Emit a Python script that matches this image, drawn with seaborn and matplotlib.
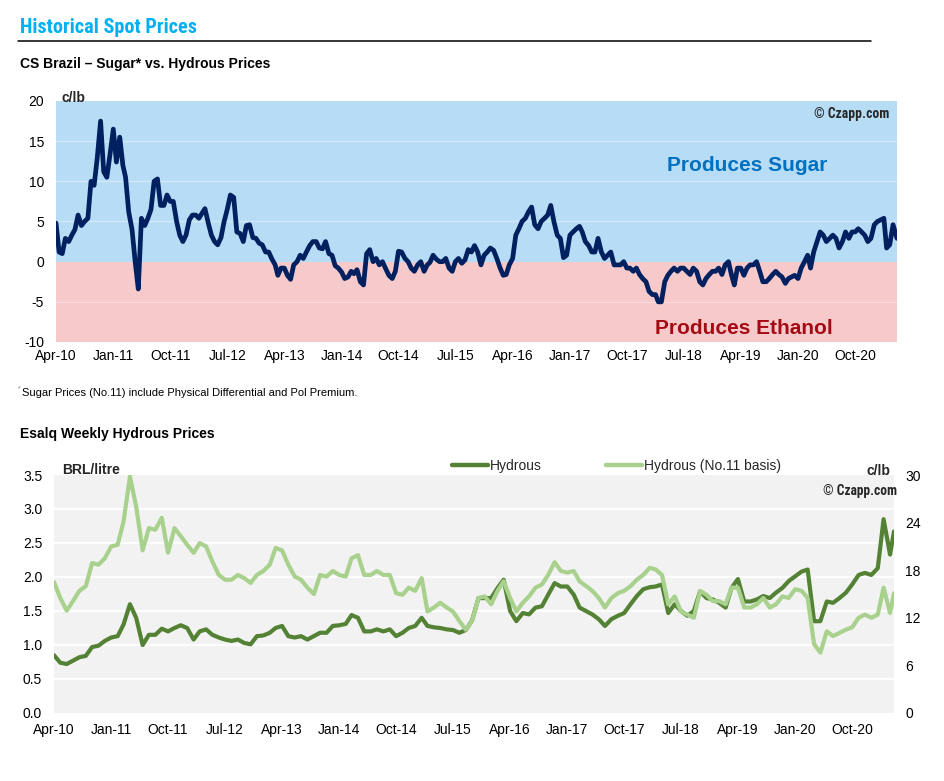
import numpy as np
import pandas as pd
import matplotlib
matplotlib.use('Agg')
import matplotlib.pyplot as plt
from matplotlib.lines import Line2D
from matplotlib import font_manager
from matplotlib.font_manager import FontProperties
import seaborn as sns

# ---------------- data ----------------
# CS Brazil sugar premium over hydrous, c/lb: value at each month start from Apr-10
sugar_premium_start = [
    4.8, 1.0, 2.5, 4.0, 4.5, 5.4, 9.5, 17.5, 10.5, 16.5,
    15.5, 10.5, 4.0, -3.4, 4.5, 6.5, 10.3, 7.0, 7.5, 5.0,
    2.5, 5.2, 5.8, 6.0, 4.8, 2.5, 3.0, 6.5, 8.0, 3.5,
    4.5, 3.0, 2.3, 1.2, 0.3, -1.7, -0.8, -2.2, 0.0, 0.4,
    2.0, 2.5, 1.6, 1.0, -0.5, -1.3, -1.9, -1.5, -2.5, 1.0,
    0.0, -0.4, -0.9, -2.1, 1.3, 0.4, -0.8, -0.4, -1.2, -0.1,
    0.3, 0.0, -0.8, 0.0, -0.2, 1.5, 2.0, -0.4, 1.2, 1.4,
    -0.8, -1.6, 0.4, 4.1, 5.4, 6.8, 4.1, 5.4, 7.0, 3.3,
    0.5, 3.3, 4.1, 3.7, 2.0, 1.2, 1.2, 0.8, -0.4, -0.4,
    -0.8, -1.2, -1.6, -2.5, -4.1, -5.0, -2.5, -1.2, -1.2, -0.8,
    -1.6, -1.2, -2.9, -1.6, -1.2, -1.6, 0.0, -2.9, -0.8, -0.8,
    -0.4, -1.2, -2.5, -1.6, -1.6, -2.7, -1.9, -2.1, 0.0, -0.8,
    2.5, 3.3, 2.9, 2.9, 2.5, 2.9, 3.7, 3.7, 2.5, 4.6,
    5.2, 1.7, 4.6,
]
# value at mid-month (16th), Apr-10 .. Mar-21
sugar_premium_mid = [
    1.2, 2.9, 3.3, 5.8, 5.0, 10.0, 12.9, 11.2, 13.3, 12.4,
    12.0, 6.2, 0.0, 5.4, 5.4, 10.0, 7.0, 8.3, 7.5, 3.3,
    3.3, 5.8, 5.4, 6.6, 3.3, 2.1, 5.0, 8.3, 3.7, 2.5,
    4.6, 2.9, 2.1, 1.2, -0.4, -0.8, -1.7, -0.4, 0.8, 1.2,
    2.5, 1.7, 2.5, 0.8, -0.8, -2.1, -1.2, -1.0, -2.9, 1.5,
    0.4, 0.0, -1.7, -1.2, 1.2, 0.0, -1.2, 0.0, -0.4, 0.8,
    0.0, 0.4, -1.2, 0.4, 0.2, 1.2, 1.2, 0.8, 1.7, 0.4,
    -1.7, -0.4, 3.3, 5.0, 6.2, 4.6, 5.0, 5.8, 5.0, 2.9,
    0.8, 3.7, 4.4, 2.5, 1.2, 2.9, 0.4, 1.2, -0.4, 0.0,
    -0.8, -0.8, -2.1, -3.7, -4.1, -5.0, -1.7, -0.8, -0.8, -1.2,
    -0.8, -2.5, -2.1, -1.2, -0.8, -0.4, -1.7, -0.8, -1.7, -0.4,
    0.0, -2.5, -2.1, -1.2, -1.9, -2.1, -1.7, -0.8, 0.8, 1.2,
    3.7, 2.5, 3.3, 1.7, 3.7, 3.7, 4.1, 3.3, 2.9, 5.0,
    5.4, 2.1,
]
sugar_premium_last = 2.9

# Esalq hydrous, BRL/litre, monthly from Apr-10 (+ last reading)
hydrous_brl = [
    0.85, 0.74, 0.72, 0.77, 0.82, 0.84, 0.97, 0.99, 1.06, 1.11,
    1.13, 1.30, 1.60, 1.40, 1.00, 1.15, 1.15, 1.24, 1.20, 1.25,
    1.29, 1.25, 1.08, 1.20, 1.23, 1.15, 1.11, 1.08, 1.06, 1.08,
    1.03, 1.01, 1.13, 1.14, 1.18, 1.25, 1.28, 1.13, 1.11, 1.13,
    1.08, 1.13, 1.18, 1.18, 1.28, 1.29, 1.31, 1.44, 1.40, 1.20,
    1.20, 1.23, 1.20, 1.23, 1.13, 1.18, 1.25, 1.28, 1.40, 1.28,
    1.26, 1.25, 1.23, 1.22, 1.18, 1.22, 1.36, 1.69, 1.69, 1.69,
    1.84, 1.96, 1.50, 1.35, 1.47, 1.45, 1.55, 1.57, 1.74, 1.91,
    1.86, 1.86, 1.74, 1.55, 1.50, 1.45, 1.38, 1.28, 1.38, 1.43,
    1.47, 1.60, 1.72, 1.82, 1.85, 1.86, 1.89, 1.47, 1.60, 1.50,
    1.43, 1.50, 1.79, 1.69, 1.67, 1.62, 1.55, 1.84, 1.97, 1.64,
    1.64, 1.67, 1.72, 1.69, 1.77, 1.84, 1.94, 2.01, 2.08, 2.11,
    1.35, 1.35, 1.64, 1.62, 1.69, 1.77, 1.89, 2.03, 2.06, 2.03,
    2.13, 2.85, 2.33, 2.67,
]

# Esalq hydrous on No.11 basis, c/lb, monthly from Apr-10 (+ last reading)
hydrous_no11 = [
    16.5, 14.5, 12.9, 14.1, 15.4, 16.0, 18.9, 18.7, 19.5, 21.0,
    21.2, 24.1, 29.8, 26.0, 20.5, 23.3, 23.1, 24.6, 20.2, 23.3,
    22.3, 21.2, 20.2, 21.4, 21.0, 19.1, 17.4, 16.8, 16.8, 17.4,
    17.0, 16.4, 17.4, 17.9, 18.7, 20.8, 20.5, 18.7, 17.2, 16.8,
    15.8, 15.0, 17.4, 17.2, 17.9, 17.4, 17.2, 19.5, 19.9, 17.4,
    17.4, 17.9, 17.4, 17.4, 15.1, 14.9, 15.8, 15.4, 17.0, 12.8,
    13.3, 13.9, 13.3, 12.8, 11.6, 10.5, 11.6, 14.5, 14.7, 13.7,
    15.4, 16.6, 14.5, 12.8, 13.9, 14.7, 15.8, 16.2, 17.4, 19.0,
    17.9, 17.7, 17.9, 16.6, 16.0, 15.4, 14.5, 13.3, 14.5, 15.1,
    15.4, 16.0, 16.8, 17.4, 18.3, 18.1, 17.4, 13.7, 14.7, 12.8,
    12.4, 12.0, 15.4, 14.9, 14.1, 14.1, 13.7, 15.8, 15.8, 13.3,
    13.3, 13.7, 14.5, 13.3, 13.7, 14.7, 14.5, 15.6, 15.4, 14.5,
    8.7, 7.6, 10.3, 9.7, 10.1, 10.5, 10.8, 12.0, 12.4, 12.0,
    12.4, 15.8, 12.6, 15.1,
]

first_date = pd.Timestamp('2010-04-01')
last_date = pd.Timestamp('2021-04-20')
month_starts = pd.date_range(first_date, periods=133, freq='MS')
mid_months = month_starts[:132] + pd.Timedelta(days=15)
dates = list(month_starts) + [last_date]
tick_dates = pd.date_range('2010-04-01', '2020-10-01', freq='9MS')
tick_labels = [d.strftime('%b-%y') for d in tick_dates]

left_ticks = [0.0, 0.5, 1.0, 1.5, 2.0, 2.5, 3.0, 3.5]
right_ticks = [0, 6, 12, 18, 24, 30]
top_ticks = [-10, -5, 0, 5, 10, 15, 20]

# ---------------- style ----------------
sns.set_theme(style='white')
names = {f.name for f in font_manager.fontManager.ttflist}
base_font = 'Liberation Sans' if 'Liberation Sans' in names else 'DejaVu Sans'
plt.rcParams['font.family'] = [base_font, 'DejaVu Sans']
plt.rcParams['axes.unicode_minus'] = False


def find_narrow_bold():
    prefs = ['liberationsansnarrow-bold', 'liberationsansnarrow_bold', 'robotocondensed-bold',
             'notosans-condensedbold', 'opensans-condensedbold', 'opensanscondensed-bold',
             'dejavusanscondensed-bold']
    files = [f.fname for f in font_manager.fontManager.ttflist]
    for p in prefs:
        for fn in files:
            base = fn.replace('\\', '/').split('/')[-1].lower()
            if base.startswith(p) and 'italic' not in base and 'oblique' not in base:
                return fn
    return None


narrow_path = find_narrow_bold()


def narrow_props(size):
    if narrow_path:
        return FontProperties(fname=narrow_path, size=size)
    return FontProperties(family=base_font, weight='bold', size=size)


NAVY = '#002060'
BLUE_BG = '#B7DCF5'
PINK_BG = '#F6C9CB'
DARK_G = '#548235'
LIGHT_G = '#A9D18E'
TITLE_C = '#00B0F0'

W, H = 945, 781
fx = lambda px: px / W
fy = lambda py: 1 - py / H

fig = plt.figure(figsize=(W / 100, H / 100), dpi=100)
fig.patch.set_facecolor('white')
renderer = fig.canvas.get_renderer()


def fit_width(t, target_px, lo=0.8, hi=1.15):
    w = t.get_window_extent(renderer).width
    if w > 0:
        s = min(max(target_px / w, lo), hi)
        t.set_fontsize(t.get_fontsize() * s)


# headings
title = fig.text(fx(20), fy(33), 'Historical Spot Prices', color=TITLE_C,
                 fontproperties=narrow_props(15), va='baseline')
fit_width(title, 177)
fig.add_artist(Line2D([fx(18), fx(871)], [fy(41), fy(41)], color='black', lw=1.1))
fig.text(fx(20), fy(68), 'CS Brazil \u2013 Sugar* vs. Hydrous Prices', fontsize=10,
         fontweight='bold', color='black', va='baseline')

# ---------------- top chart ----------------
ax1 = fig.add_axes([fx(56), fy(342), (897 - 56) / W, (342 - 101) / H])
ax1.axhspan(0, 20, color=BLUE_BG, lw=0, zorder=0)
ax1.axhspan(-10, 0, color=PINK_BG, lw=0, zorder=0)
for yv in [15, 10, 5, -5]:
    ax1.axhline(yv, color='white', alpha=0.35, lw=1, zorder=0.5)
df_top = pd.concat([
    pd.DataFrame({'date': month_starts, 'spread': sugar_premium_start}),
    pd.DataFrame({'date': mid_months, 'spread': sugar_premium_mid}),
    pd.DataFrame({'date': [last_date], 'spread': [sugar_premium_last]}),
]).sort_values('date').reset_index(drop=True)
sns.lineplot(data=df_top, x='date', y='spread', ax=ax1, color=NAVY, linewidth=3.4,
             zorder=3)
ax1.set_xlim(first_date, last_date)
ax1.set_ylim(-10, 20)
ax1.set_yticks(top_ticks)
ax1.set_yticklabels([str(t) for t in top_ticks])
ax1.set_xticks(tick_dates)
ax1.set_xticklabels(tick_labels)
ax1.tick_params(axis='y', length=0, labelsize=10, pad=8.5, colors='black')
ax1.tick_params(axis='x', length=0, labelsize=10, pad=5, colors='black')
ax1.set_xlabel('')
ax1.set_ylabel('')
ax1.grid(False)
for s in ax1.spines.values():
    s.set_visible(False)

fig.text(fx(62), fy(102), 'c/lb', fontsize=10, fontweight='bold', va='baseline')
cz1 = fig.text(fx(889), fy(118), '\u00a9 Czapp.com', fontproperties=narrow_props(10),
               ha='right', va='baseline')
fit_width(cz1, 75)
fig.text(fx(747), fy(171), 'Produces Sugar', fontsize=15, fontweight='bold',
         color='#0070C0', ha='center', va='baseline')
fig.text(fx(744), fy(334), 'Produces Ethanol', fontsize=15, fontweight='bold',
         color='#A50A14', ha='center', va='baseline')

fig.text(fx(18), fy(390), '*', fontsize=5, color='#808080', va='baseline')
fig.text(fx(22), fy(396), 'Sugar Prices (No.11) include Physical Differential and Pol Premium.',
         fontsize=8, color='black', va='baseline')
fig.text(fx(20), fy(438), 'Esalq Weekly Hydrous Prices', fontsize=10, fontweight='bold',
         color='black', va='baseline')

# ---------------- bottom chart ----------------
ax3 = fig.add_axes([fx(54), fy(713), (894 - 54) / W, (713 - 475) / H])
ax3.set_facecolor('#F2F2F2')
for yv in left_ticks[1:-1]:
    ax3.axhline(yv, color='white', lw=1.3, zorder=0.5)
df_bot = pd.DataFrame({'date': dates, 'brl': hydrous_brl, 'no11': hydrous_no11})
sns.lineplot(data=df_bot, x='date', y='brl', ax=ax3, color=DARK_G, linewidth=3.0,
             zorder=3)
ax3.set_xlim(first_date, last_date)
ax3.set_ylim(0, 3.5)
ax3.set_yticks(left_ticks)
ax3.set_yticklabels([f'{t:.1f}' for t in left_ticks])
ax3.set_xticks(tick_dates)
ax3.set_xticklabels(tick_labels)
ax3.tick_params(axis='y', length=0, labelsize=10, pad=8.5, colors='black')
ax3.tick_params(axis='x', length=0, labelsize=10, pad=7.5, colors='black')
ax3.set_xlabel('')
ax3.set_ylabel('')
ax3.grid(False)
for s in ax3.spines.values():
    s.set_visible(False)

ax4 = ax3.twinx()
sns.lineplot(data=df_bot, x='date', y='no11', ax=ax4, color=LIGHT_G, linewidth=3.0,
             zorder=3)
ax4.set_xlim(first_date, last_date)
ax4.set_ylim(0, 30)
ax4.set_yticks(right_ticks)
ax4.set_yticklabels([str(t) for t in right_ticks])
ax4.tick_params(axis='y', length=0, labelsize=10, pad=8, colors='black')
ax4.set_ylabel('')
ax4.set_xlabel('')
ax4.grid(False)
for s in ax4.spines.values():
    s.set_visible(False)

fig.text(fx(62), fy(474), 'BRL/litre', fontsize=10, fontweight='bold', va='baseline')
fig.text(fx(890), fy(475), 'c/lb', fontsize=10, fontweight='bold', ha='right',
         va='baseline')
cz2 = fig.text(fx(897), fy(495), '\u00a9 Czapp.com', fontproperties=narrow_props(10),
               ha='right', va='baseline')
fit_width(cz2, 74)

handles = [Line2D([], [], color=DARK_G, lw=3.2), Line2D([], [], color=LIGHT_G, lw=3.2)]
fig.legend(handles, ['Hydrous', 'Hydrous (No.11 basis)'], loc='center left',
           bbox_to_anchor=(fx(452), fy(466)), ncol=2, frameon=False, fontsize=10,
           handlelength=2.6, handletextpad=0.15, columnspacing=4.6,
           borderpad=0, borderaxespad=0)

fig.savefig('out.png', dpi=100, facecolor='white')
